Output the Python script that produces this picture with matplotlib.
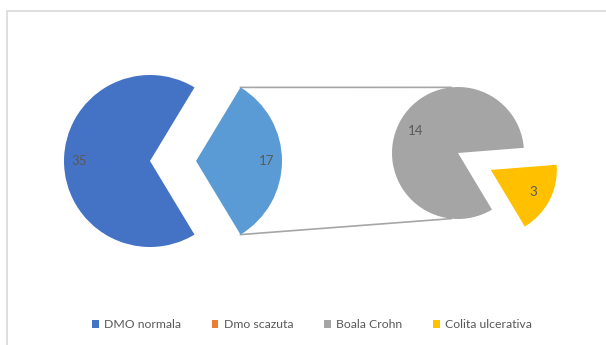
import numpy as np
import matplotlib
matplotlib.use("Agg")
import matplotlib.pyplot as plt
from matplotlib.patches import Patch
from matplotlib.lines import Line2D

plt.rcParams['font.family'] = ['Lato', 'DejaVu Sans']

# Data
categories = ["DMO normala", "Dmo scazuta", "Boala Crohn", "Colita ulcerativa"]
values = [35, 0, 14, 3]
colors = ["#4472C4", "#ED7D31", "#A5A5A5", "#FFC000"]
other_color = "#5B9BD5"

# the last two categories are split off into the secondary pie
n_second = 2
main_vals = values[:-n_second]
second_vals = values[-n_second:]
other_total = sum(second_vals)

W, H = 606, 345
fig = plt.figure(figsize=(W / 100, H / 100), dpi=100)
ax = fig.add_axes([0, 0, 1, 1])

text_color = "#595959"

# chart frame (left and top edges)
ax.plot([7, 7, W], [0, H - 11, H - 11], color="#D9D9D9", lw=1.2, solid_capstyle="butt")

# primary pie: the "other" slice points to the right and is pulled out
c1 = (150, H - 161)
r1 = 86
main_all = [other_total] + main_vals
main_cols = [other_color] + colors[:-n_second]
other_span = 360.0 * other_total / sum(main_all)
wedges1, _ = ax.pie(main_all, colors=main_cols, startangle=-other_span / 2,
                    center=c1, radius=r1,
                    explode=[0.535 * r1] + [0] * len(main_vals),
                    wedgeprops=dict(linewidth=0), frame=True)

# secondary pie
c2 = (458, H - 153)
r2 = 66
wedges2, _ = ax.pie(second_vals, colors=colors[-n_second:], startangle=4.5,
                    center=c2, radius=r2, explode=[0, 0.56 * r2],
                    wedgeprops=dict(linewidth=0), frame=True)
ax.set_xlim(0, W)
ax.set_ylim(0, H)
ax.set_aspect("equal")
ax.axis("off")


def label_wedge(w, v, frac):
    mid = np.deg2rad((w.theta1 + w.theta2) / 2)
    cx, cy = w.center
    ax.text(cx + frac * w.r * np.cos(mid), cy + frac * w.r * np.sin(mid), f"{v}",
            ha="center", va="center", fontsize=9.5, color=text_color)


for w, v in zip(wedges1, main_all):
    if v > 0:
        label_wedge(w, v, 0.82)
for w, v in zip(wedges2, second_vals):
    label_wedge(w, v, 0.72)

# connector lines between the "other" slice and the secondary pie
ow = wedges1[0]
ox, oy = ow.center
for t_main, t_sec in [(ow.theta2, 96), (ow.theta1, -96)]:
    a = np.deg2rad(t_main)
    b = np.deg2rad(t_sec)
    ax.add_line(Line2D([ox + r1 * np.cos(a), c2[0] + r2 * np.cos(b)],
                       [oy + r1 * np.sin(a), c2[1] + r2 * np.sin(b)],
                       color="#A6A6A6", lw=1.2, zorder=0))

handles = [Patch(facecolor=c, edgecolor="none") for c in colors]
fig.legend(handles, categories, loc="center", bbox_to_anchor=(312 / W, 20 / H),
           ncol=4, frameon=False, fontsize=8.8, labelcolor=text_color,
           handlelength=0.55, handleheight=0.55, handletextpad=0.45,
           columnspacing=2.5)

fig.savefig("out.png", dpi=100)
